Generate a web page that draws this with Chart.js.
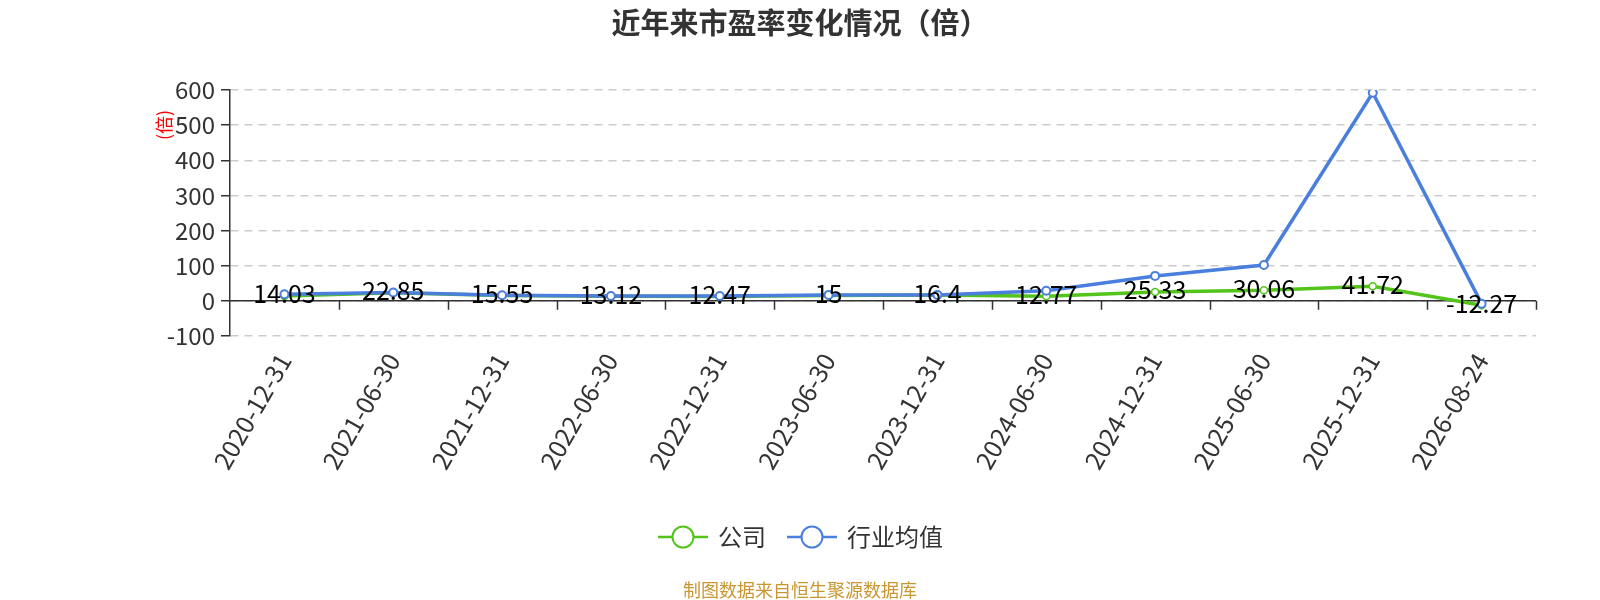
<!DOCTYPE html>
<html>
<head>
  <meta charset="utf-8">
  <title>近年来市盈率变化情况</title>
  <script src="https://cdn.jsdelivr.net/npm/chart.js@4/dist/chart.umd.min.js"></script>
  <style>
    html, body { margin: 0; padding: 0; background: #fff; }
    #wrap { width: 1600px; height: 600px; }
  </style>
</head>
<body>
<div id="wrap"><canvas id="peChart" width="1600" height="600"></canvas></div>

<script>
// values
var dates = ["2020-12-31","2021-06-30","2021-12-31","2022-06-30","2022-12-31","2023-06-30",
             "2023-12-31","2024-06-30","2024-12-31","2025-06-30","2025-12-31","2026-08-24"]
var company = [14.03, 22.85, 15.55, 13.12, 12.47, 15, 16.4, 12.77, 25.33, 30.06, 41.72, -12.27]
var industry = [19, 24, 16, 14, 14, 17, 17, 29, 71, 102, 592, -8]
var yTicks = [-100, 0, 100, 200, 300, 400, 500, 600]
var seriesNames = ["公司", "行业均值"]

var GREEN = "rgb(82,196,26)"
var BLUE = "rgb(74,127,221)"
var FONT = "'Noto Sans CJK SC', 'Noto Sans', sans-serif"

// title, unit, zero axis, value labels, legend, source line
var decor = {
  id: "decor",
  beforeDatasetsDraw: function(chart){
    var ctx = chart.ctx, area = chart.chartArea
    var y = chart.scales.y
    var y0 = y.getPixelForValue(0)
    ctx.save()
    ctx.strokeStyle = "#333"
    ctx.lineWidth = 1.5
    ctx.beginPath()
    ctx.moveTo(area.left, y0)
    ctx.lineTo(area.right, y0)
    var band = (area.right - area.left) / dates.length
    for(i=1;i<=dates.length;i++){
      var tx = Math.round(area.left + band*i) + 0.5
      ctx.moveTo(tx, y0)
      ctx.lineTo(tx, y0 + 9)
    }
    ctx.stroke()
    ctx.restore()
  },
  afterDatasetsDraw: function(chart){
    var ctx = chart.ctx
    var meta = chart.getDatasetMeta(0)
    ctx.save()
    ctx.fillStyle = "#000"
    ctx.font = "25px " + FONT
    ctx.textAlign = "center"
    ctx.textBaseline = "middle"
    for(i=0;i<company.length;i++){
      var p = meta.data[i]
      ctx.fillText(String(company[i]), p.x, p.y - 2)
    }
    ctx.restore()
  },
  afterDraw: function(chart){
    var ctx = chart.ctx
    ctx.save()
    // title
    ctx.fillStyle = "#333"
    ctx.font = "bold 29px " + FONT
    ctx.textAlign = "center"
    ctx.textBaseline = "middle"
    ctx.fillText("近年来市盈率变化情况（倍）", 800, 23)

    // unit on the y axis
    ctx.save()
    ctx.translate(164, 125)
    ctx.rotate(-Math.PI/2)
    ctx.fillStyle = "#ff0000"
    ctx.font = "18px " + FONT
    ctx.fillText("(倍)", 0, 0)
    ctx.restore()

    // legend
    var items = [
      {name: seriesNames[0], color: GREEN, x: 658},
      {name: seriesNames[1], color: BLUE, x: 787}
    ]
    var ly = 537
    items.forEach(function(it){
      ctx.strokeStyle = it.color
      ctx.lineWidth = 2.5
      ctx.beginPath()
      ctx.moveTo(it.x, ly)
      ctx.lineTo(it.x + 50, ly)
      ctx.stroke()
      ctx.beginPath()
      ctx.arc(it.x + 25, ly, 10.5, 0, Math.PI*2)
      ctx.fillStyle = "#fff"
      ctx.fill()
      ctx.lineWidth = 2
      ctx.stroke()
      ctx.fillStyle = "#333"
      ctx.font = "24px " + FONT
      ctx.textAlign = "left"
      ctx.fillText(it.name, it.x + 60, ly)
    })

    // source
    ctx.fillStyle = "#c9962f"
    ctx.font = "18px " + FONT
    ctx.textAlign = "center"
    ctx.fillText("制图数据来自恒生聚源数据库", 800, 590)
    ctx.restore()
  }
}

var peChart = new Chart(document.getElementById("peChart").getContext("2d"), {
  type: "line",
  data: {
    labels: dates,
    datasets: [{
      label: seriesNames[0],
      data: company,
      borderColor: GREEN,
      borderWidth: 3.5,
      pointRadius: 3.5,
      pointBorderWidth: 1.5,
      pointBackgroundColor: "#fff",
      pointBorderColor: GREEN,
      tension: 0,
      order: 1
    },{
      label: seriesNames[1],
      data: industry,
      borderColor: BLUE,
      borderWidth: 3.5,
      pointRadius: 4,
      pointBorderWidth: 2,
      pointBackgroundColor: "#fff",
      pointBorderColor: BLUE,
      tension: 0,
      order: 0
    }]
  },
  options: {
    responsive: false,
    animation: false,
    devicePixelRatio: 1,
    layout: { padding: { top: 90, right: 64, bottom: 0, left: 0 } },
    plugins: {
      legend: { display: false },
      title: { display: false },
      tooltip: { enabled: false }
    },
    scales: {
      x: {
        offset: true,
        grid: { display: false, drawTicks: false },
        border: { display: false },
        ticks: {
          autoSkip: false,
          minRotation: 60,
          maxRotation: 60,
          padding: 12,
          color: "#333",
          font: { size: 25, family: FONT }
        },
        afterFit: function(s){ s.height = 264 }
      },
      y: {
        min: yTicks[0],
        max: yTicks[yTicks.length-1],
        afterBuildTicks: function(s){ s.ticks = yTicks.map(function(v){ return {value: v} }) },
        grid: {
          color: "#cccccc",
          lineWidth: 1.5,
          tickColor: "#333",
          tickLength: 9,
          tickWidth: 1.5,
          tickBorderDash: []
        },
        border: { display: true, color: "#333", width: 1.5, dash: [8, 6] },
        ticks: {
          padding: 6,
          color: "#333",
          font: { size: 24, family: FONT }
        },
        afterFit: function(s){ s.width = 230 }
      }
    }
  },
  plugins: [decor]
})
</script>
</body>
</html>
